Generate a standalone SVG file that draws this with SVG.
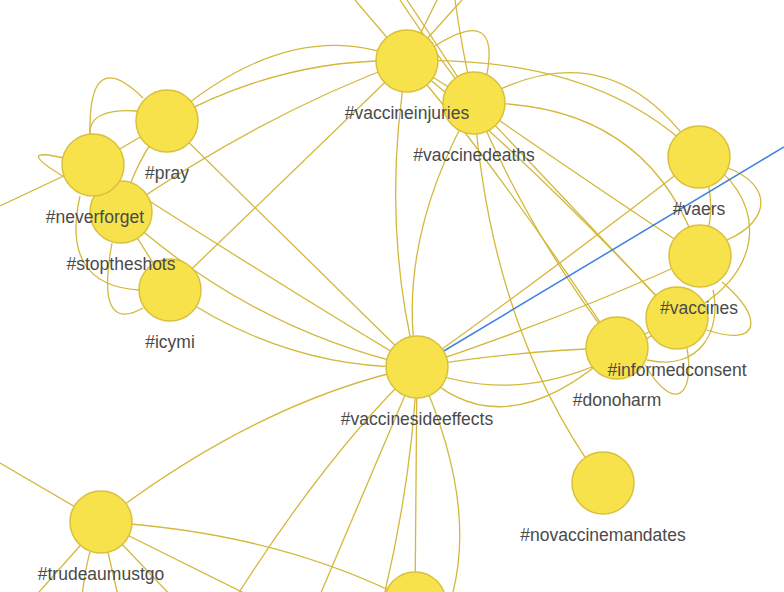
<svg xmlns="http://www.w3.org/2000/svg" width="784" height="592" viewBox="0 0 784 592">
<style>
.e{fill:none;stroke:#d3b83b;stroke-width:1.3}
.b{fill:none;stroke:#3d7fe0;stroke-width:1.5}
.n circle{fill:#f8e24c;stroke:#d9c03c;stroke-width:1.5}
.n text{font-family:"Liberation Sans",Arial,sans-serif;font-size:17.5px;fill:#4a4a4a;text-anchor:middle}
</style>
<rect width="784" height="592" fill="#ffffff"/>
<g id="edges">
<path class="e" d="M90,135 Q88,44 143,98"/>
<path class="e" d="M90,135 Q88,108 137,111"/>
<path class="e" d="M93,165 L167,121"/>
<path class="e" d="M121,212 Q135,160 167,121"/>
<path class="e" d="M64,158 Q12,146 66,178"/>
<path class="e" d="M70,173 L0,206"/>
<path class="e" d="M80,196 Q60,285 139,290"/>
<path class="e" d="M112,243 Q95,335 143,308"/>
<path class="e" d="M121,212 L170,290"/>
<path class="e" d="M167,121 L417,367"/>
<path class="e" d="M170,290 L407,61"/>
<path class="e" d="M121,212 Q264,113 407,61"/>
<path class="e" d="M167,121 Q293,11 407,61"/>
<path class="e" d="M167,121 Q283,57 407,61"/>
<path class="e" d="M93,165 Q280,285 417,367"/>
<path class="e" d="M121,212 Q250,330 417,367"/>
<path class="e" d="M170,290 Q287,370 417,367"/>
<path class="e" d="M407,61 L355,0"/>
<path class="e" d="M474,103 Q440,60 400,0"/>
<path class="e" d="M474,103 Q446,58 407,0"/>
<path class="e" d="M407,61 L437,0"/>
<path class="e" d="M407,61 L462,0"/>
<path class="e" d="M474,103 Q462,50 455,0"/>
<path class="e" d="M435,46 Q500,5 487,74"/>
<path class="e" d="M407,61 L474,103"/>
<path class="e" d="M407,61 Q600,55 699,157"/>
<path class="e" d="M474,103 Q610,22 699,157"/>
<path class="e" d="M474,103 Q650,100 700,256"/>
<path class="e" d="M474,103 Q600,190 700,256"/>
<path class="e" d="M474,103 Q570,205 677,318"/>
<path class="e" d="M474,103 Q530,235 617,348"/>
<path class="e" d="M474,103 Q490,330 603,483"/>
<path class="e" d="M474,103 Q395,240 417,367"/>
<path class="e" d="M407,61 Q500,170 617,348"/>
<path class="e" d="M407,61 Q380,220 417,367"/>
<path class="e" d="M407,61 Q520,150 677,318"/>
<path class="e" d="M417,367 Q560,265 699,157"/>
<path class="e" d="M417,367 Q560,320 700,256"/>
<path class="e" d="M417,367 Q520,350 617,348"/>
<path class="e" d="M417,367 Q540,420 677,318"/>
<path class="e" d="M417,367 Q500,455 617,348"/>
<path class="e" d="M699,157 Q722,205 700,256"/>
<path class="e" d="M728,168 C772,185 772,220 727,240"/>
<path class="e" d="M699,157 C765,190 775,275 677,318"/>
<path class="e" d="M722,282 C765,318 760,348 707,330"/>
<path class="e" d="M687,348 C695,395 675,415 645,365"/>
<path class="e" d="M647,360 C700,372 722,330 713,290"/>
<path class="e" d="M617,348 L677,318"/>
<path class="e" d="M417,367 Q260,400 101,522"/>
<path class="e" d="M101,522 Q280,532 415,603"/>
<path class="e" d="M417,367 Q330,450 238,594"/>
<path class="e" d="M417,367 L320,595"/>
<path class="e" d="M417,367 Q412,480 383,600"/>
<path class="e" d="M417,367 L415,603"/>
<path class="e" d="M417,367 Q478,500 452,596"/>
<path class="e" d="M101,522 L0,463"/>
<path class="e" d="M101,522 L32,600"/>
<path class="e" d="M101,522 Q84,560 82,600"/>
<path class="e" d="M101,522 L119,600"/>
<path class="e" d="M101,522 L175,600"/>
<path class="e" d="M101,522 L246,594"/>
<path class="b" d="M417,367 L784,147"/>
</g>
<g id="node-icymi" class="n"><circle cx="170" cy="290" r="31"/><text x="170" y="348">#icymi</text></g>
<g id="node-stoptheshots" class="n"><circle cx="121" cy="212" r="31"/><text x="121" y="270">#stoptheshots</text></g>
<g id="node-neverforget" class="n"><circle cx="93" cy="165" r="31"/><text x="95" y="223">#neverforget</text></g>
<g id="node-pray" class="n"><circle cx="167" cy="121" r="31"/><text x="167" y="179">#pray</text></g>
<g id="node-vaccinedeaths" class="n"><circle cx="474" cy="103" r="31"/><text x="474" y="161">#vaccinedeaths</text></g>
<g id="node-vaccineinjuries" class="n"><circle cx="407" cy="61" r="31"/><text x="407" y="119">#vaccineinjuries</text></g>
<g id="node-donoharm" class="n"><circle cx="617" cy="348" r="31"/><text x="617" y="406">#donoharm</text></g>
<g id="node-informedconsent" class="n"><circle cx="677" cy="318" r="31"/><text x="677" y="376">#informedconsent</text></g>
<g id="node-vaccines" class="n"><circle cx="700" cy="256" r="31"/><text x="699" y="314">#vaccines</text></g>
<g id="node-vaers" class="n"><circle cx="699" cy="157" r="31"/><text x="699" y="215">#vaers</text></g>
<g id="node-vaccinesideeffects" class="n"><circle cx="417" cy="367" r="31"/><text x="417" y="425">#vaccinesideeffects</text></g>
<g id="node-novaccinemandates" class="n"><circle cx="603" cy="483" r="31"/><text x="603" y="541">#novaccinemandates</text></g>
<g id="node-trudeaumustgo" class="n"><circle cx="101" cy="522" r="31"/><text x="101" y="580">#trudeaumustgo</text></g>
<g id="node-bottom" class="n"><circle cx="415" cy="603" r="31"/></g>
</svg>
